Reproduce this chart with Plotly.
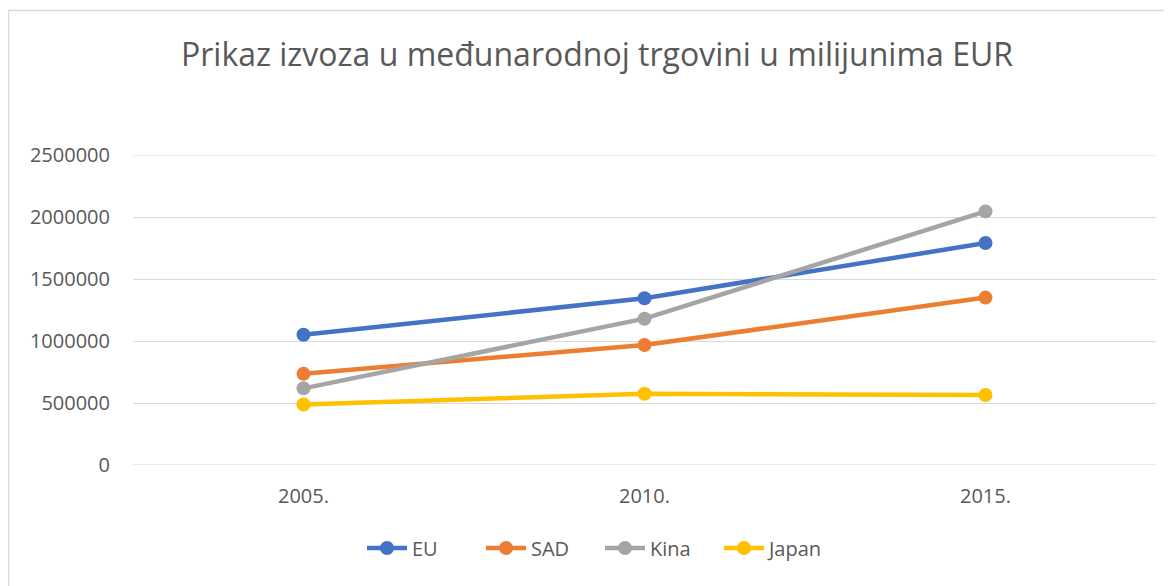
import plotly.graph_objects as go

years = ["2005.", "2010.", "2015."]
eu = [1050000, 1345000, 1790000]
sad = [735000, 968000, 1350000]
kina = [618000, 1180000, 2045000]
japan = [488000, 575000, 565000]

series = [("EU", eu, "#4472C4"), ("SAD", sad, "#ED7D31"),
          ("Kina", kina, "#A5A5A5"), ("Japan", japan, "#FFC000")]

FONT = "Open Sans"
fig = go.Figure()
for name, vals, col in series:
    fig.add_trace(go.Scatter(x=years, y=vals, name=name, mode="lines+markers",
                             line=dict(color=col, width=4.5),
                             marker=dict(color=col, size=14)))

# the page body adds an 8 px offset; screen = figure + 8
OFF = 8
W, H = 1172, 586
L, R, T, B = 133 - OFF, W - (1156 - OFF), 155 - OFF, H - (465 - OFF)
pw, ph = W - L - R, H - T - B

def px_x(sx):
    return (sx - OFF - L) / pw

def px_y(sy):
    return (H - B - (sy - OFF)) / ph

yrange = [0, 2500000]

fig.update_layout(
    width=W, height=H, autosize=False,
    margin=dict(l=L, r=R, t=T, b=B, pad=0, autoexpand=False),
    paper_bgcolor="white", plot_bgcolor="white",
    font=dict(family=FONT, color="#595959", size=20),
    title=dict(text="Prikaz izvoza u međunarodnoj trgovini u milijunima EUR",
               font=dict(size=32, color="#595959", family=FONT),
               x=(597 - OFF) / W, xref="container", xanchor="center",
               y=1 - (55 - OFF) / H, yref="container", yanchor="middle"),
    showlegend=True,
    legend=dict(orientation="h", xref="container", x=(600 - OFF) / W, xanchor="center",
                y=px_y(548), yanchor="middle", font=dict(size=20, color="#595959"),
                itemwidth=40, entrywidth=64, entrywidthmode="pixels",
                bgcolor="rgba(0,0,0,0)"),
    xaxis=dict(type="category", range=[-0.5, 2.5], showgrid=False, zeroline=False,
               showline=False, ticks="", ticklabelstandoff=17, automargin=False,
               tickfont=dict(size=20, color="#595959")),
    yaxis=dict(range=yrange, dtick=500000, tickformat="d", automargin=False,
               showgrid=True, gridcolor="#D9D9D9", gridwidth=1,
               zeroline=False, showline=False, ticks="", ticklabelstandoff=22,
               tickfont=dict(size=20, color="#595959")),
    shapes=[
        # gridlines at the range edges (Plotly omits them)
        dict(type="line", xref="paper", yref="y", x0=0, x1=1, y0=yrange[0], y1=yrange[0],
             line=dict(color="#D9D9D9", width=1), layer="below"),
        dict(type="line", xref="paper", yref="y", x0=0, x1=1, y0=yrange[1], y1=yrange[1],
             line=dict(color="#D9D9D9", width=1), layer="below"),
        # chart border (only top and left visible)
        dict(type="line", xref="paper", yref="paper",
             x0=px_x(8.5), x1=px_x(8.5), y0=px_y(10.5), y1=px_y(620),
             line=dict(color="#D9D9D9", width=1.5)),
        dict(type="line", xref="paper", yref="paper",
             x0=px_x(8.5), x1=px_x(1200), y0=px_y(10.5), y1=px_y(10.5),
             line=dict(color="#D9D9D9", width=1.5)),
    ],
)

fig.write_html("out.html")
